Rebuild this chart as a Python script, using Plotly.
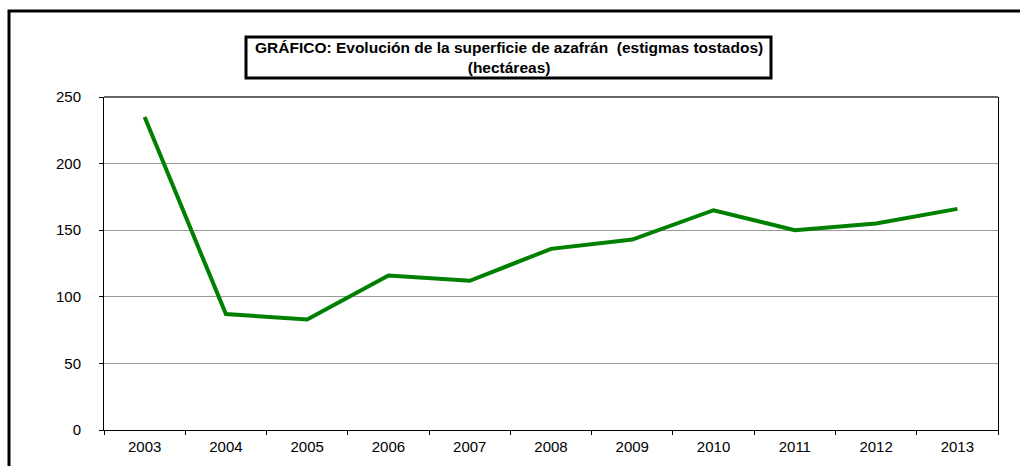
import plotly.graph_objects as go

years = ["2003", "2004", "2005", "2006", "2007", "2008", "2009", "2010", "2011", "2012", "2013"]
hectareas = [235, 87, 83, 116, 112, 136, 143, 165, 150, 155, 166]
y_ticks = [0, 50, 100, 150, 200, 250]
title_line1 = "GRÁFICO: Evolución de la superficie de azafrán  (estigmas tostados)"
title_line2 = "(hectáreas)"

W, H = 1020, 466
L, R, T, B = 104, 998, 97, 430


def px(x):
    return (x - L) / (R - L)


def py(y):
    return (B - y) / (B - T)


fig = go.Figure()
fig.add_trace(go.Scatter(
    x=years, y=hectareas, mode="lines",
    line=dict(color="#008000", width=4),
    hoverinfo="x+y",
))

font = "Liberation Sans, Arial, sans-serif"

fig.update_layout(
    width=W, height=H,
    margin=dict(l=L, r=W - R, t=T, b=H - B),
    paper_bgcolor="white", plot_bgcolor="white",
    showlegend=False,
    font=dict(family=font, size=15, color="black"),
    xaxis=dict(
        type="category", tickson="boundaries",
        ticks="outside", ticklen=4, tickcolor="black", tickwidth=1,
        showline=True, linecolor="black", linewidth=1,
        showgrid=False, zeroline=False,
        tickfont=dict(family=font, size=15, color="black"),
        ticklabelstandoff=3,
        range=[-0.5, 10.5],
    ),
    yaxis=dict(
        range=[0, 250], tickvals=y_ticks,
        ticks="outside", ticklen=4, tickcolor="black", tickwidth=1,
        showline=True, linecolor="black", linewidth=1, mirror=True,
        showgrid=True, gridcolor="#999999", gridwidth=1,
        zeroline=False,
        tickfont=dict(family=font, size=15, color="black"),
        ticklabelstandoff=15,
    ),
    shapes=[
        # top grid line darker
        dict(type="line", xref="paper", yref="paper", x0=0, x1=1, y0=1, y1=1,
             line=dict(color="#666666", width=2)),
        # outer chart border (left and top visible)
        dict(type="rect", xref="paper", yref="paper",
             x0=px(9), x1=px(1040), y0=py(11), y1=py(490),
             line=dict(color="black", width=3)),
        # title box
        dict(type="rect", xref="paper", yref="paper",
             x0=px(246), x1=px(771), y0=py(37), y1=py(78),
             line=dict(color="black", width=3), fillcolor="white"),
    ],
    annotations=[
        dict(xref="paper", yref="paper", x=px(508.5), y=py(57.5),
             text="<b>" + title_line1 + "</b><br><b>" + title_line2 + "</b>",
             showarrow=False, xanchor="center", yanchor="middle",
             font=dict(family=font, size=15.5, color="black")),
    ],
)

fig.write_html(
    "out.html",
    config={"displayModeBar": False},
    post_script="document.body.style.margin='0';document.body.style.overflow='hidden';",
)
